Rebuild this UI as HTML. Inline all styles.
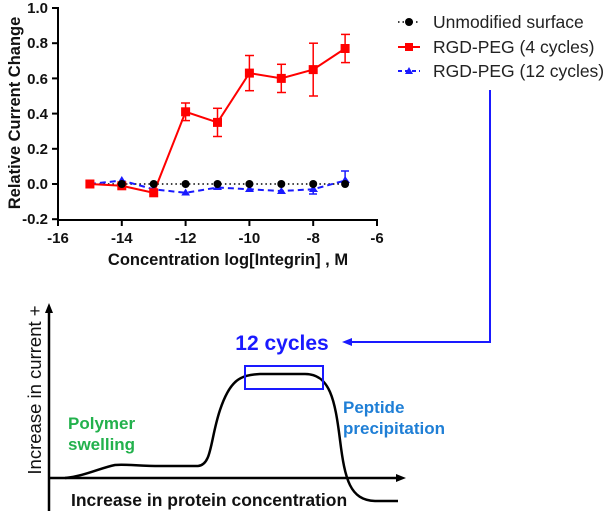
<!DOCTYPE html>
<html><head><style>body{margin:0;background:#fff}svg{display:block}</style></head><body>
<svg width="605" height="511" viewBox="0 0 605 511" xmlns="http://www.w3.org/2000/svg" font-family="Liberation Sans, sans-serif">
<g stroke="#000" stroke-width="2" fill="none">
<line x1="58" y1="7" x2="58" y2="220"/>
<line x1="57" y1="220" x2="378" y2="220"/>
<line x1="52" y1="8" x2="58" y2="8"/><line x1="52" y1="43.2" x2="58" y2="43.2"/><line x1="52" y1="78.4" x2="58" y2="78.4"/><line x1="52" y1="113.6" x2="58" y2="113.6"/><line x1="52" y1="148.8" x2="58" y2="148.8"/><line x1="52" y1="184" x2="58" y2="184"/><line x1="52" y1="219.2" x2="58" y2="219.2"/>
<line x1="58" y1="220" x2="58" y2="226"/><line x1="121.8" y1="220" x2="121.8" y2="226"/><line x1="185.6" y1="220" x2="185.6" y2="226"/><line x1="249.4" y1="220" x2="249.4" y2="226"/><line x1="313.2" y1="220" x2="313.2" y2="226"/><line x1="377" y1="220" x2="377" y2="226"/>
</g>
<g font-size="15" font-weight="bold" text-anchor="end" fill="#111">
<text x="48" y="13">1.0</text><text x="48" y="48">0.8</text><text x="48" y="84">0.6</text><text x="48" y="119">0.4</text><text x="48" y="154">0.2</text><text x="48" y="189">0.0</text><text x="48" y="224">-0.2</text>
</g>
<g font-size="15" font-weight="bold" text-anchor="middle" fill="#111">
<text x="58" y="243">-16</text><text x="121.8" y="243">-14</text><text x="185.6" y="243">-12</text><text x="249.4" y="243">-10</text><text x="313.2" y="243">-8</text><text x="377" y="243">-6</text>
</g>
<text x="228" y="265" font-size="16.5" font-weight="bold" text-anchor="middle" fill="#111">Concentration log[Integrin] , M</text>
<text transform="translate(20,113) rotate(-90)" font-size="16.5" font-weight="bold" text-anchor="middle" fill="#111">Relative Current Change</text>
<polyline points="89.9,184 345.1,184" stroke="#000" stroke-width="1.5" stroke-dasharray="1.5,3" fill="none"/>
<polyline points="89.9,184 121.8,180.5 153.7,189.3 185.6,192.8 217.5,187.5 249.4,189.3 281.3,191 313.2,189.3 345.1,180.5" stroke="#1a1aff" stroke-width="2" stroke-dasharray="6,4" fill="none"/>
<g stroke="#1a1aff" stroke-width="1.5"><line x1="313.2" y1="184" x2="313.2" y2="194"/><line x1="309" y1="194" x2="317" y2="194"/><line x1="345.1" y1="171" x2="345.1" y2="184"/><line x1="341" y1="171" x2="349" y2="171"/></g>
<g fill="#1a1aff">
<polygon points="121.8,176 126,183 117.6,183"/><polygon points="153.7,185 158,192 149.5,192"/><polygon points="185.6,188.5 190,195.5 181.3,195.5"/><polygon points="217.5,183 222,190 213,190"/><polygon points="249.4,185 254,192 245,192"/><polygon points="281.3,187 286,194 277,194"/><polygon points="313.2,185 318,192 309,192"/><polygon points="345.1,176 350,183 341,183"/>
</g>
<polyline points="89.9,184 121.8,185.8 153.7,192.8 185.6,111.8 217.5,122.4 249.4,73.1 281.3,78.4 313.2,69.6 345.1,48.5" stroke="#ff0000" stroke-width="2" fill="none"/>
<g stroke="#ff0000" stroke-width="1.5">
<line x1="185.6" y1="103" x2="185.6" y2="120.6"/><line x1="181" y1="103" x2="190" y2="103"/><line x1="181" y1="120.6" x2="190" y2="120.6"/>
<line x1="217.5" y1="108.3" x2="217.5" y2="136.5"/><line x1="213" y1="108.3" x2="222" y2="108.3"/><line x1="213" y1="136.5" x2="222" y2="136.5"/>
<line x1="249.4" y1="55.5" x2="249.4" y2="90.7"/><line x1="245" y1="55.5" x2="254" y2="55.5"/><line x1="245" y1="90.7" x2="254" y2="90.7"/>
<line x1="281.3" y1="64.3" x2="281.3" y2="92.5"/><line x1="277" y1="64.3" x2="286" y2="64.3"/><line x1="277" y1="92.5" x2="286" y2="92.5"/>
<line x1="313.2" y1="43.2" x2="313.2" y2="96"/><line x1="309" y1="43.2" x2="318" y2="43.2"/><line x1="309" y1="96" x2="318" y2="96"/>
<line x1="345.1" y1="34.4" x2="345.1" y2="62.6"/><line x1="341" y1="34.4" x2="350" y2="34.4"/><line x1="341" y1="62.6" x2="350" y2="62.6"/>
</g>
<g fill="#ff0000">
<rect x="85.4" y="179.5" width="9" height="9"/><rect x="117.3" y="181.3" width="9" height="9"/><rect x="149.2" y="188.3" width="9" height="9"/><rect x="181.1" y="107.3" width="9" height="9"/><rect x="213" y="117.9" width="9" height="9"/><rect x="244.9" y="68.6" width="9" height="9"/><rect x="276.8" y="73.9" width="9" height="9"/><rect x="308.7" y="65.1" width="9" height="9"/><rect x="340.6" y="44" width="9" height="9"/>
</g>
<g fill="#000">
<circle cx="121.8" cy="184" r="4"/><circle cx="153.7" cy="184" r="4"/><circle cx="185.6" cy="184" r="4"/><circle cx="217.5" cy="184" r="4"/><circle cx="249.4" cy="184" r="4"/><circle cx="281.3" cy="184" r="4"/><circle cx="313.2" cy="184" r="4"/><circle cx="345.1" cy="184" r="4"/>
</g>
<line x1="398" y1="22" x2="420" y2="22" stroke="#000" stroke-width="1.5" stroke-dasharray="1.5,3"/><circle cx="409" cy="22" r="4"/>
<line x1="398" y1="47" x2="420" y2="47" stroke="#f00" stroke-width="2"/><rect x="405" y="43" width="8" height="8" fill="#f00"/>
<line x1="398" y1="71" x2="420" y2="71" stroke="#1a1aff" stroke-width="2" stroke-dasharray="4,3"/><polygon points="409,67 413,74 405,74" fill="#1a1aff"/>
<g font-size="17.5" fill="#222"><text x="433" y="28">Unmodified surface</text><text x="433" y="53">RGD-PEG (4 cycles)</text><text x="433" y="77">RGD-PEG (12 cycles)</text></g>
<polyline points="490,90 490,342 346,342" stroke="#1a1aff" stroke-width="2" fill="none"/>
<polygon points="342,342 352,338 352,346" fill="#1a1aff"/>
<g stroke="#000" stroke-width="2.5" fill="none">
<line x1="49" y1="511" x2="49" y2="309"/>
<line x1="49" y1="478" x2="398" y2="478"/>
<path d="M65,478 C85,476 100,468 115,465 C125,464 140,466 160,466 L198,466 C212,465 210,440 220,410 C230,380 240,375 260,374 L305,374 C330,374 335,400 340,440 C345,480 350,500 375,501 L398,501"/>
</g>
<polygon points="49,303 45,313 53,313" fill="#000"/>
<polygon points="406,478 396,474 396,482" fill="#000"/>
<rect x="245" y="366" width="78" height="23" fill="none" stroke="#1a1aff" stroke-width="2"/>
<text x="282" y="350" font-size="21" font-weight="bold" fill="#1a1aff" text-anchor="middle">12 cycles</text>
<text x="68" y="429" font-size="17" font-weight="bold" fill="#22b14c">Polymer</text>
<text x="68" y="450" font-size="17" font-weight="bold" fill="#22b14c">swelling</text>
<text x="343" y="413" font-size="17" font-weight="bold" fill="#1f7fd6">Peptide</text>
<text x="343" y="434" font-size="17" font-weight="bold" fill="#1f7fd6">precipitation</text>
<text x="71" y="506" font-size="17.5" font-weight="bold" fill="#111">Increase in protein concentration</text>
<text transform="translate(41,390) rotate(-90)" font-size="18.5" fill="#111" text-anchor="middle">Increase in current +</text>
</svg>
</body></html>
